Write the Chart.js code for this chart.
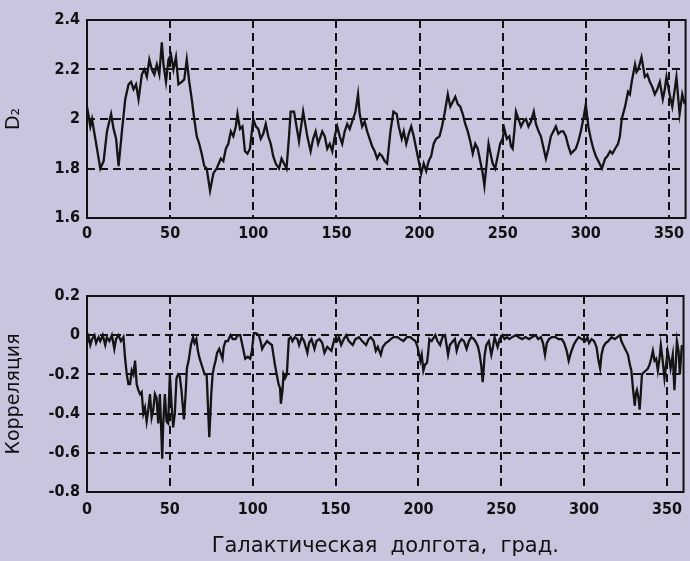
<!DOCTYPE html>
<html>
<head>
<meta charset="utf-8">
<script src="https://cdn.jsdelivr.net/npm/chart.js@4/dist/chart.umd.min.js"></script>
<style>
  html, body { margin: 0; padding: 0; background: #c9c5df; }
  body { width: 690px; height: 561px; position: relative; overflow: hidden; }
  canvas { position: absolute; left: 0; }
  #d2-chart   { top: 0; }
  #corr-chart { top: 270px; }
</style>
</head>
<body>
<canvas id="d2-chart" width="690" height="250"></canvas>
<canvas id="corr-chart" width="690" height="291"></canvas>
<script>
// galactic longitude (deg) and D2
const d2Lon = [
  0, 2, 3, 5, 8, 10, 12, 14.5, 16, 17.5, 19, 21, 23, 25, 26.5, 28, 29.5, 31, 33, 34.5,
  36, 37.5, 39, 40.5, 42, 43.5, 45, 46, 47.5, 49, 50.5, 52, 53.5, 55, 57, 58.5, 60, 61.5, 63, 64.5,
  66, 67.5, 69, 70.5, 72, 74, 76, 78, 80.5, 82, 83.5, 85, 86.5, 88, 89.5, 90.5, 92, 93.5, 95, 96.5,
  98, 100, 101.5, 103, 104.5, 106, 107.5, 109, 110.5, 112, 113.5, 115.5, 117, 118.5, 120, 121.5, 122.5, 124.5, 126, 127.5,
  129, 130, 131.5, 132.5, 134.5, 136, 137.5, 139, 141.5, 143, 144.5, 146, 147.5, 149, 150.5, 152, 153.5, 155, 156.5, 158,
  159.5, 161.5, 163, 164, 165.5, 167, 168.5, 170, 171.5, 173, 174.5, 176, 177.5, 179, 180.5, 182.5, 184.3, 186.3, 187.5, 189.3,
  190.5, 192, 193.5, 195, 196.5, 198, 199.5, 201, 202.5, 204, 205.5, 207, 208.5, 210, 212, 213.5, 215, 217, 218.5, 220,
  221.5, 223, 224.5, 226, 227.5, 229, 230.5, 232, 233.5, 235, 236.5, 238, 239, 240.5, 241.5, 243, 244, 245.5, 247, 248.5,
  250, 251, 252.5, 254, 255, 256, 257, 258, 259.5, 261, 262.5, 264, 265.5, 267, 268.7, 270, 271.6, 273, 274, 276,
  277.5, 279, 280.5, 282, 283.5, 285, 286.5, 288, 289.5, 291, 292.5, 294, 295.5, 297, 298.5, 300, 301.5, 303, 304.5, 306,
  307.5, 309.7, 311.6, 313, 314.6, 316, 317.6, 319.4, 320.5, 321.6, 323.6, 325.4, 326.5, 327.6, 329.6, 330.5, 331.5, 333.5, 335.5, 337,
  338.5, 340, 341.5, 343, 344.5, 346.3, 347.5, 348.5, 350.4, 352, 353.5, 354.5, 356.4, 358, 359.5
];
const d2Val = [
  2.05, 1.97, 2.0, 1.92, 1.8, 1.83, 1.95, 2.02, 1.96, 1.92, 1.81, 1.95, 2.08, 2.14, 2.15, 2.12, 2.14, 2.08, 2.18, 2.2,
  2.17, 2.24, 2.2, 2.18, 2.22, 2.18, 2.31, 2.22, 2.15, 2.24, 2.26, 2.2, 2.25, 2.14, 2.15, 2.16, 2.24, 2.15, 2.08, 2.0,
  1.93, 1.9, 1.86, 1.81, 1.8, 1.71, 1.78, 1.8, 1.84, 1.83, 1.88, 1.9, 1.95, 1.93, 1.97, 2.02, 1.96, 1.97, 1.87, 1.86,
  1.88, 2.0, 1.97, 1.96, 1.92, 1.94, 1.98, 1.93, 1.9, 1.85, 1.82, 1.8, 1.84, 1.82, 1.8, 1.93, 2.03, 2.03, 1.97, 1.91,
  1.98, 2.03, 1.97, 1.93, 1.87, 1.92, 1.95, 1.9, 1.95, 1.93, 1.88, 1.9, 1.87, 1.93, 1.97, 1.93, 1.9, 1.95, 1.98, 1.96,
  1.99, 2.03, 2.1, 2.02, 1.97, 1.99, 1.95, 1.92, 1.89, 1.87, 1.84, 1.86, 1.85, 1.83, 1.82, 1.95, 2.03, 2.02, 1.97, 1.92,
  1.95, 1.9, 1.94, 1.97, 1.93, 1.88, 1.83, 1.78, 1.82, 1.79, 1.83, 1.85, 1.9, 1.92, 1.93, 1.97, 2.02, 2.1, 2.05, 2.07,
  2.09, 2.06, 2.05, 2.02, 1.98, 1.95, 1.91, 1.86, 1.9, 1.88, 1.83, 1.78, 1.73, 1.83, 1.9, 1.85, 1.82, 1.8, 1.85, 1.9,
  1.92, 1.96, 1.92, 1.93, 1.89, 1.88, 1.95, 2.03, 2.0, 1.97, 1.99, 2.0, 1.97, 1.99, 2.03, 1.98, 1.95, 1.93, 1.9, 1.84,
  1.88, 1.93, 1.95, 1.97, 1.94, 1.95, 1.95, 1.93, 1.89, 1.86, 1.87, 1.88, 1.91, 1.95, 2.0, 2.06, 1.97, 1.92, 1.88, 1.85,
  1.83, 1.8, 1.84, 1.85, 1.87, 1.86, 1.88, 1.9, 1.93, 2.0, 2.05, 2.11, 2.1, 2.15, 2.22, 2.19, 2.2, 2.25, 2.17, 2.18,
  2.15, 2.13, 2.1, 2.12, 2.15, 2.08, 2.12, 2.17, 2.1, 2.05, 2.12, 2.17, 2.02, 2.1, 2.06
];

// galactic longitude (deg) and correlation
const corrLon = [
  0, 1, 2, 3, 4.5, 5.5, 7, 8, 9.5, 11, 12, 13.5, 15, 16.5, 17.5, 19, 20.5, 22, 23, 24,
  25, 26, 27, 28, 29, 30, 31, 32, 33, 34, 35, 36, 37, 38, 39, 40, 41, 42, 43, 44,
  45.4, 46, 47, 48, 49, 50, 51, 52, 53, 54, 55, 56, 57, 58.5, 59.5, 60.3, 61.5, 62.7, 64, 64.9,
  66, 66.9, 68, 69.9, 71, 72.2, 73.8, 75, 75.8, 76.7, 77.6, 78.5, 79.8, 81, 81.8, 82.5, 83.6, 85, 86.6, 88,
  89.6, 91, 92.5, 94, 95.5, 97, 98.5, 99.5, 100.7, 102, 103.7, 105, 105.7, 107, 108.7, 110, 111.6, 112.5, 113.4, 114.5,
  115.6, 116.5, 117, 118, 118.6, 119.5, 120.6, 121.8, 123, 124, 125.4, 127, 128, 129.6, 131, 133, 134, 135.5, 137.3, 138.5,
  140.3, 142, 143.3, 145, 147.5, 149.3, 151, 152, 153.4, 155, 156.4, 158, 160.4, 162, 164.2, 166, 168.4, 170, 171.3, 173,
  174.3, 175.5, 177.3, 178.5, 180.3, 182, 183.3, 185, 187.3, 189, 191, 193, 195.2, 196.5, 198.2, 199.5, 201.2, 202, 203, 204,
  205.2, 206, 206.6, 208, 210.2, 211.5, 213.1, 214.5, 216.1, 217, 217.9, 219, 220.9, 222, 223.1, 224.5, 226.1, 227.5, 229.1, 230.5,
  232, 233.5, 235, 236, 237, 238, 238.8, 240, 241, 242.5, 244, 245, 246, 247.8, 249, 250.7, 252, 253.5, 254.9, 256.5,
  258.9, 260.5, 262.7, 264.5, 266.9, 268.5, 270.8, 272.3, 273.9, 275.2, 276.4, 277.5, 278.8, 280.5, 282.8, 284.5, 286.6, 288, 289.5, 290.7,
  292, 293.7, 295, 296.7, 298.5, 300.7, 302, 303, 304.5, 306, 307.5, 308.5, 309.7, 310.5, 311.6, 313, 314.6, 316.5, 318.6, 320,
  321.6, 322.5, 323.6, 325.4, 326.5, 327.6, 328.5, 329.6, 330.6, 331.2, 331.9, 333, 333.5, 334.2, 334.9, 336, 337.3, 338.5, 339.5, 340.5,
  341.5, 342.5, 343.5, 344.5, 345.5, 346.3, 347.3, 348.5, 349.5, 350.4, 351.3, 352.2, 353.5, 354.5, 355.3, 356, 357, 357.8, 359
];
const corrVal = [
  -0.04, -0.01, -0.05, -0.02, 0.0, -0.04, -0.01, -0.03, 0.0, -0.05, -0.01, -0.03, 0.0, -0.07, -0.02, 0.0, -0.03, -0.01, -0.12, -0.2,
  -0.25, -0.25, -0.18, -0.2, -0.13, -0.25, -0.28, -0.3, -0.29, -0.4, -0.37, -0.44, -0.38, -0.3, -0.42, -0.38, -0.3, -0.32, -0.45, -0.3,
  -0.63, -0.45, -0.3, -0.44, -0.45, -0.2, -0.35, -0.47, -0.4, -0.22, -0.2, -0.21, -0.28, -0.43, -0.3, -0.17, -0.12, -0.05, -0.01, -0.04,
  -0.02, -0.08, -0.12, -0.17, -0.2, -0.2, -0.52, -0.3, -0.2, -0.16, -0.13, -0.09, -0.07, -0.1, -0.12, -0.06, -0.03, -0.03, 0.0, -0.02,
  -0.02, 0.0, 0.0, -0.06, -0.12, -0.11, -0.12, -0.08, 0.01, 0.01, 0.0, -0.04, -0.07, -0.05, -0.03, -0.04, -0.05, -0.1, -0.15, -0.2,
  -0.25, -0.27, -0.35, -0.28, -0.2, -0.22, -0.2, -0.02, -0.01, -0.03, -0.01, -0.02, -0.05, -0.01, -0.03, -0.09, -0.04, -0.02, -0.07, -0.03,
  -0.02, -0.04, -0.09, -0.06, -0.08, -0.02, -0.03, -0.01, -0.05, -0.02, 0.0, -0.03, -0.05, -0.02, -0.01, -0.03, -0.05, -0.02, -0.01, -0.03,
  -0.08, -0.06, -0.1, -0.06, -0.04, -0.03, -0.02, -0.01, -0.01, -0.02, -0.03, -0.01, -0.01, -0.02, -0.03, -0.06, -0.13, -0.1, -0.18, -0.15,
  -0.14, -0.08, -0.02, -0.03, 0.0, -0.03, -0.05, -0.01, 0.0, -0.05, -0.1, -0.05, -0.03, -0.02, -0.08, -0.04, -0.02, -0.03, -0.07, -0.03,
  -0.01, -0.02, -0.04, -0.06, -0.1, -0.16, -0.24, -0.1, -0.05, -0.03, -0.1, -0.06, -0.01, -0.06, -0.02, 0.0, -0.02, -0.01, -0.02, -0.01,
  0.0, -0.01, -0.02, -0.01, -0.02, -0.01, 0.0, -0.02, -0.01, -0.04, -0.1, -0.04, -0.02, -0.01, -0.01, -0.02, -0.02, -0.04, -0.08, -0.13,
  -0.09, -0.05, -0.03, -0.01, -0.02, -0.03, -0.01, -0.04, -0.02, -0.03, -0.06, -0.12, -0.17, -0.1, -0.06, -0.04, -0.03, -0.01, -0.02, -0.01,
  0.0, -0.03, -0.05, -0.08, -0.1, -0.15, -0.18, -0.28, -0.36, -0.3, -0.28, -0.33, -0.38, -0.3, -0.2, -0.19, -0.18, -0.17, -0.15, -0.12,
  -0.08, -0.13, -0.12, -0.18, -0.12, -0.05, -0.12, -0.22, -0.15, -0.08, -0.12, -0.17, -0.1, -0.28, -0.15, -0.03, -0.08, -0.2, -0.05
];

const lonTicks  = [0, 50, 100, 150, 200, 250, 300, 350];
const d2Range   = [1.6, 2.4];
const corrRange = [-0.8, 0.2];
const xTitle    = 'Галактическая  долгота,  град.';

const TICK_FONT   = { family: '"Liberation Sans Narrow", "DejaVu Sans Condensed", sans-serif', size: 16, weight: 'bold' };
const Y_TITLE_FONT = { family: '"DejaVu Sans", sans-serif', size: 19 };
const X_TITLE_FONT = { family: '"DejaVu Sans", sans-serif', size: 21 };

// solid frame round the plot area, like the printed figure
const frame = {
  id: 'frame',
  afterDraw(chart) {
    const { ctx, chartArea: a } = chart;
    ctx.save();
    ctx.strokeStyle = '#111';
    ctx.lineWidth   = 2;
    ctx.strokeRect(a.left, a.top, a.right - a.left, a.bottom - a.top);
    ctx.restore();
  }
};

function makePanel(canvasId, lon, val, range, opts) {
  const points = lon.map((x, i) => ({ x, y: val[i] }));
  const fmt    = v => String(+Number(v).toFixed(1));

  return new Chart(document.getElementById(canvasId), {
    type: 'line',
    data: {
      datasets: [{
        data: points,
        borderColor: '#141414',
        borderWidth: 2.3,
        pointRadius: 0,
        tension: 0,
        fill: false
      }]
    },
    plugins: [frame],
    options: {
      responsive: false,
      animation: false,
      events: [],
      layout: { padding: { top: opts.top, right: 1, bottom: 0, left: 0 } },
      plugins: { legend: { display: false }, tooltip: { enabled: false } },
      scales: {
        x: {
          type: 'linear',
          min: 0,
          max: 360,
          afterBuildTicks: axis => { axis.ticks = lonTicks.map(v => ({ value: v })); },
          afterFit: axis => { axis.height = opts.xHeight; },
          ticks: { color: '#111', font: TICK_FONT, padding: opts.xPad, maxRotation: 0, autoSkip: false },
          grid: { color: '#111', lineWidth: 2, drawTicks: false },
          border: { display: false, dash: [8, 5] },
          title: {
            display: !!opts.xTitle,
            text: opts.xTitle || '',
            color: '#111',
            font: X_TITLE_FONT,
            padding: { top: 0, bottom: 2 }
          }
        },
        y: {
          min: range[0],
          max: range[1],
          afterFit: axis => { axis.width = 87; },
          ticks: { stepSize: 0.2, color: '#111', font: TICK_FONT, padding: 7, callback: fmt },
          grid: { color: '#111', lineWidth: 2, drawTicks: false },
          border: { display: false, dash: [8, 5] },
          title: {
            display: true,
            text: opts.yTitle,
            color: '#111',
            font: Y_TITLE_FONT,
            padding: { top: 3, bottom: 0 }
          }
        }
      }
    }
  });
}

makePanel('d2-chart', d2Lon, d2Val, d2Range,
  { top: 20, xHeight: 32, xPad: 6, yTitle: 'D₂' });
makePanel('corr-chart', corrLon, corrVal, corrRange,
  { top: 26, xHeight: 69, xPad: 8, yTitle: 'Корреляция', xTitle: xTitle });
</script>
</body>
</html>
